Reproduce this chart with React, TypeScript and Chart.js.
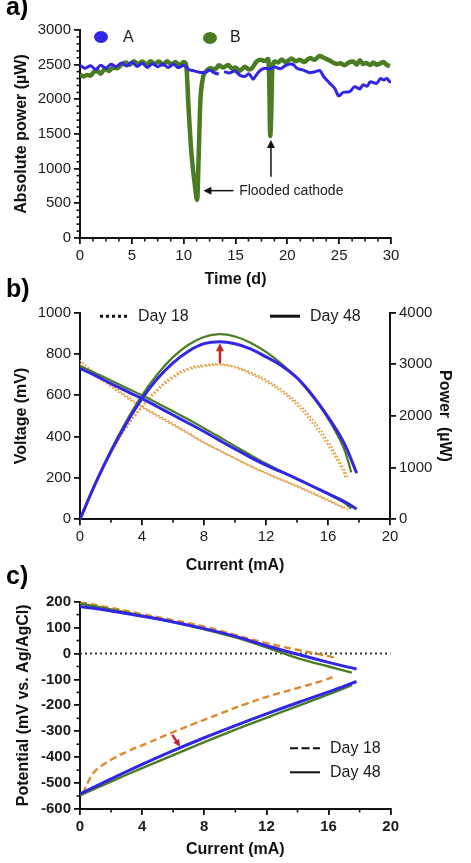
import React, { useEffect, useRef } from "react";
import { Chart, registerables } from "chart.js";

Chart.register(...registerables);

const FONT = '"Liberation Sans", Arial, Helvetica, sans-serif';
const BLUE = "#3226e6";
const GREEN = "#4a7d23";
const ORANGE_DOT = "#e3a24c";
const ORANGE_DASH = "#dd8a2e";
const RED = "#c4242c";
const INK = "#1b1b1b";

// ---------- a) absolute power over time ----------
const daysA = [0, 0.5, 1, 1.5, 2, 2.5, 3, 3.5, 4, 4.5, 5, 5.5, 6, 6.5, 7, 7.5, 8, 8.5, 9, 9.5, 10, 10.5, 11, 11.5, 12, 12.5, 13, 13.4, 13.6, 13.9, 14.4, 14.9, 15.4, 15.9, 16.3, 16.7, 17, 17.4, 17.9, 18.3, 18.8, 19.3, 19.8, 20.3, 20.6, 20.9, 21.5, 22.2, 22.7, 23.1, 23.5, 24.1, 24.6, 24.95, 25.4, 26, 26.5, 27, 27.3, 27.7, 28, 28.6, 29, 29.3, 29.6, 29.9, 30];
const powerA = [2490, 2450, 2485, 2430, 2490, 2450, 2505, 2470, 2525, 2480, 2540, 2475, 2520, 2460, 2515, 2470, 2510, 2460, 2505, 2455, 2490, 2430, 2410, 2390, 2385, 2420, 2380, 2365, null, 2400, 2380, 2410, 2350, 2330, 2370, 2290, 2350, 2420, 2450, 2440, 2465, 2440, 2485, 2510, 2500, 2450, 2425, 2385, 2400, 2415, 2330, 2230, 2150, 2050, 2100, 2110, 2180, 2150, 2210, 2190, 2255, 2230, 2300, 2280, 2300, 2255, 2260];
const daysB = [0, 0.3, 0.7, 1, 1.3, 1.7, 2, 2.4, 2.8, 3.2, 3.6, 4, 4.4, 4.8, 5.2, 5.6, 6, 6.4, 6.8, 7.2, 7.6, 8, 8.4, 8.8, 9.2, 9.6, 10, 10.2, 10.3, 10.45, 10.75, 11.1, 11.3, 11.45, 11.6, 11.85, 12.2, 12.6, 13, 13.4, 13.8, 14.3, 14.7, 15, 15.4, 15.9, 16.3, 16.6, 17, 17.4, 17.8, 18.15, 18.25, 18.35, 18.45, 18.55, 18.8, 19.1, 19.45, 19.8, 20.1, 20.4, 20.8, 21.2, 21.6, 22.2, 22.6, 23.1, 23.5, 23.8, 24.1, 24.4, 24.8, 25.1, 25.5, 25.9, 26.35, 26.7, 27, 27.3, 27.6, 28, 28.3, 28.6, 29, 29.25, 29.6, 29.9];
const powerB = [2360, 2330, 2350, 2340, 2390, 2410, 2370, 2440, 2410, 2460, 2450, 2500, 2530, 2500, 2550, 2510, 2545, 2500, 2550, 2510, 2545, 2500, 2550, 2505, 2540, 2490, 2540, 2520, 2400, 1940, 1220, 740, 550, 1200, 1940, 2300, 2410, 2450, 2430, 2490, 2460, 2495, 2440, 2460, 2410, 2470, 2430, 2450, 2540, 2570, 2555, 2580, 2300, 1470, 1800, 2450, 2545, 2530, 2575, 2540, 2560, 2590, 2550, 2570, 2540, 2595, 2570, 2625, 2600, 2580, 2560, 2530, 2510, 2520, 2490, 2530, 2545, 2500, 2565, 2510, 2525, 2495, 2530, 2500, 2520, 2540, 2495, 2480];
const floodLabel = "Flooded cathode";
const floodArrowDays = [14.8, 11.9];
const floodArrowPower = 683;
const floodLabelDay = 15.35;
const secondFloodDay = 18.42;
const secondFloodPower = [885, 1414];

// ---------- b) polarization and power density curves ----------
const currentA48 = [0, 1, 2, 3, 4, 5, 6, 7, 8, 9, 10, 11, 12, 13, 14, 15, 16, 17, 17.85];
const voltageA48 = [731, 695, 657, 620, 584, 545, 505, 465, 425, 382, 340, 300, 262, 229, 196, 160, 124, 88, 50];
const powerA48 = [0, 695, 1314, 1860, 2336, 2725, 3030, 3255, 3400, 3438, 3400, 3300, 3144, 2975, 2740, 2400, 1984, 1496, 893];
const currentB48 = [0, 1, 2, 3, 4, 5, 6, 7, 8, 9, 10, 11, 12, 13, 14, 15, 16, 17, 17.5];
const voltageB48 = [742, 707, 672, 636, 600, 562, 523, 483, 441, 398, 354, 311, 270, 232, 195, 159, 122, 82, 52];
const powerB48 = [0, 707, 1344, 1908, 2400, 2810, 3140, 3380, 3530, 3585, 3540, 3420, 3240, 3010, 2730, 2380, 1950, 1390, 910];
const currentA18 = [0, 0.5, 1, 2, 3, 4, 5, 6, 7, 8, 9, 10, 11, 12, 13, 14, 15, 16, 17, 17.25];
const voltageA18 = [768, 735, 706, 652, 598, 548, 505, 462, 418, 373, 334, 296, 259, 225, 193, 162, 129, 95, 58, 48];
const powerA18 = [0, 368, 706, 1304, 1794, 2192, 2525, 2772, 2926, 2984, 3006, 2955, 2845, 2700, 2510, 2262, 1935, 1515, 990, 828];
const currentB18 = [0, 0.5, 1, 2, 3, 4, 5, 6, 7, 8, 9, 10, 11, 12, 13, 14, 15, 16, 17, 17.1];
const voltageB18 = [752, 722, 694, 642, 590, 542, 498, 456, 414, 370, 332, 294, 256, 222, 190, 158, 124, 90, 54, 48];
const powerB18 = [0, 361, 694, 1284, 1770, 2168, 2490, 2736, 2898, 2960, 2988, 2940, 2816, 2664, 2470, 2212, 1860, 1440, 918, 821];
const boostArrowCurrent = 9.03;
const boostArrowPower = [3020, 3410];

// ---------- c) electrode potentials ----------
const cathCurrentA48 = [0, 2, 4, 6, 8, 10, 12, 14, 16, 17.8];
const cathPotentialA48 = [182, 164, 144, 122, 96, 66, 30, -3, -34, -60];
const cathCurrentB48 = [0, 2, 4, 6, 8, 10, 12, 14, 16, 17.5];
const cathPotentialB48 = [193, 170, 146, 121, 93, 62, 24, -18, -50, -74];
const cathCurrent18 = [0, 2, 4, 6, 8, 10, 12, 14, 15, 16, 16.5];
const cathPotential18 = [198, 176, 152, 129, 104, 72, 40, 14, 2, -10, -18];
const anodeCurrentA48 = [0, 2, 4, 6, 8, 10, 12, 14, 16, 17.8];
const anodePotentialA48 = [-542, -484, -428, -375, -325, -278, -233, -190, -148, -108];
const anodeCurrentB48 = [0, 2, 4, 6, 8, 10, 12, 14, 16, 17.5];
const anodePotentialB48 = [-548, -494, -442, -392, -342, -294, -248, -203, -158, -122];
const anodeCurrent18 = [0.2, 0.5, 1, 2, 3, 4.3, 5.8, 7.3, 9, 10.7, 12.4, 14.2, 15.7, 16.5];
const anodePotential18 = [-540, -498, -452, -410, -379, -347, -308, -272, -232, -194, -160, -130, -103, -86];
const shiftArrowCurrent = [5.94, 6.44];
const shiftArrowPotential = [-314, -359];

const legendDays = ["Day 18", "Day 48"];

function pts(xs: number[], ys: (number | null)[]) {
  return xs.map((x, i) => ({ x, y: ys[i] }));
}

function arrow(ctx: CanvasRenderingContext2D, x1: number, y1: number, x2: number, y2: number, color: string, width: number, head: number) {
  const ang = Math.atan2(y2 - y1, x2 - x1);
  const c = Math.cos(ang);
  const s = Math.sin(ang);
  ctx.save();
  ctx.strokeStyle = color;
  ctx.fillStyle = color;
  ctx.lineWidth = width;
  ctx.beginPath();
  ctx.moveTo(x1, y1);
  ctx.lineTo(x2 - c * head * 0.8, y2 - s * head * 0.8);
  ctx.stroke();
  ctx.beginPath();
  ctx.moveTo(x2, y2);
  ctx.lineTo(x2 - head * c + head * 0.5 * s, y2 - head * s - head * 0.5 * c);
  ctx.lineTo(x2 - head * c - head * 0.5 * s, y2 - head * s + head * 0.5 * c);
  ctx.closePath();
  ctx.fill();
  ctx.restore();
}

// small unlabeled ticks between the labeled ones
const minorTicks = {
  id: "minorTicks",
  afterDraw(chart: any, _args: any, opts: any) {
    const { ctx, chartArea: ca } = chart;
    const steps = (opts && opts.steps) || {};
    const len = (opts && opts.length) || 3.5;
    ctx.save();
    ctx.strokeStyle = "#111";
    ctx.lineWidth = 1.6;
    for (const id of Object.keys(steps)) {
      const scale = chart.scales[id];
      const step = steps[id];
      const major = scale.options.ticks.stepSize;
      const n = Math.round((scale.max - scale.min) / step);
      for (let i = 0; i <= n; i++) {
        const v = scale.min + i * step;
        const r = v / major;
        if (Math.abs(r - Math.round(r)) < 1e-6) continue;
        const p = scale.getPixelForValue(v);
        ctx.beginPath();
        if (scale.isHorizontal()) {
          ctx.moveTo(p, ca.bottom);
          ctx.lineTo(p, ca.bottom + len);
        } else if (scale.position === "right") {
          ctx.moveTo(ca.right, p);
          ctx.lineTo(ca.right + len, p);
        } else {
          ctx.moveTo(ca.left, p);
          ctx.lineTo(ca.left - len, p);
        }
        ctx.stroke();
      }
    }
    ctx.restore();
  },
};

function axis(min: number, max: number, step: number, title: string, bold: boolean, titlePad: any, fit: (s: any) => void, extra: any = {}) {
  return {
    type: "linear",
    min,
    max,
    afterFit: fit,
    ticks: {
      stepSize: step,
      color: INK,
      padding: 3,
      autoSkip: false,
      maxRotation: 0,
      font: { family: FONT, size: 15, weight: bold ? "bold" : "normal" },
      callback: (v: any) => String(v),
    },
    grid: { drawOnChartArea: false, drawTicks: true, tickLength: 6, color: "#111", lineWidth: 1.8 },
    border: { color: "#111", width: 2 },
    title: {
      display: true,
      text: title,
      color: "#111",
      padding: titlePad,
      font: { family: FONT, size: 16, weight: "bold" },
    },
    ...extra,
  };
}

// jagged time series keep monotone interpolation; smooth curves use bezier tension
function line(data: any[], color: string, width: number, extra: any = {}) {
  return {
    data,
    borderColor: color,
    backgroundColor: color,
    borderWidth: width,
    pointRadius: 0,
    fill: false,
    tension: 0.4,
    spanGaps: false,
    ...extra,
  };
}

const basePlugins = { legend: { display: false }, tooltip: { enabled: false } };

function configA(): any {
  const overlay = {
    id: "overlayA",
    afterDatasetsDraw(chart: any) {
      const { ctx, chartArea: ca, scales } = chart;
      const x = scales.x;
      const y = scales.y;
      ctx.save();
      ctx.fillStyle = BLUE;
      ctx.beginPath();
      ctx.ellipse(ca.left + 21, ca.top + 7, 7, 6, 0, 0, Math.PI * 2);
      ctx.fill();
      ctx.fillStyle = GREEN;
      ctx.beginPath();
      ctx.ellipse(ca.left + 130, ca.top + 8, 7, 6, 0, 0, Math.PI * 2);
      ctx.fill();
      ctx.fillStyle = INK;
      ctx.font = `16px ${FONT}`;
      ctx.textBaseline = "middle";
      ctx.fillText("A", ca.left + 43, ca.top + 8);
      ctx.fillText("B", ca.left + 150, ca.top + 8);
      const ay = y.getPixelForValue(floodArrowPower);
      arrow(ctx, x.getPixelForValue(floodArrowDays[0]), ay, x.getPixelForValue(floodArrowDays[1]), ay, "#111", 1.5, 8);
      ctx.font = `14px ${FONT}`;
      ctx.fillStyle = "#222";
      ctx.fillText(floodLabel, x.getPixelForValue(floodLabelDay), ay);
      const vx = x.getPixelForValue(secondFloodDay);
      arrow(ctx, vx, y.getPixelForValue(secondFloodPower[0]), vx, y.getPixelForValue(secondFloodPower[1]), "#111", 1.5, 8);
      ctx.restore();
    },
  };
  const jag = { cubicInterpolationMode: "monotone" };
  return {
    type: "line",
    data: {
      datasets: [
        line(pts(daysA, powerA), BLUE, 3, jag),
        line(pts(daysB, powerB), GREEN, 4.5, jag),
      ],
    },
    options: {
      animation: false,
      responsive: false,
      layout: { padding: { left: 0, right: 80, top: 30, bottom: 0 } },
      plugins: { ...basePlugins, minorTicks: { steps: { x: 1.25, y: 100 } } },
      scales: {
        x: axis(0, 30, 5, "Time (d)", false, { top: 0, bottom: 2.4 }, (s: any) => { s.height = 54; }),
        y: axis(0, 3000, 500, "Absolute power (µW)", false, { top: 12, bottom: 0 }, (s: any) => { s.width = 80; }),
      },
    },
    plugins: [minorTicks, overlay],
  };
}

function configB(): any {
  const overlay = {
    id: "overlayB",
    afterDatasetsDraw(chart: any) {
      const { ctx, chartArea: ca, scales } = chart;
      ctx.save();
      const ly = ca.top + 3.5;
      ctx.strokeStyle = "#111";
      ctx.lineWidth = 3;
      ctx.setLineDash([3, 3]);
      ctx.beginPath();
      ctx.moveTo(ca.left + 20, ly);
      ctx.lineTo(ca.left + 48, ly);
      ctx.stroke();
      ctx.setLineDash([]);
      ctx.beginPath();
      ctx.moveTo(ca.left + 190, ly);
      ctx.lineTo(ca.left + 220, ly);
      ctx.stroke();
      ctx.fillStyle = INK;
      ctx.font = `16px ${FONT}`;
      ctx.textBaseline = "middle";
      ctx.fillText(legendDays[0], ca.left + 58, ly);
      ctx.fillText(legendDays[1], ca.left + 230, ly);
      const ax = scales.x.getPixelForValue(boostArrowCurrent);
      arrow(ctx, ax, scales.y2.getPixelForValue(boostArrowPower[0]), ax, scales.y2.getPixelForValue(boostArrowPower[1]), RED, 2.5, 8);
      ctx.restore();
    },
  };
  const dot = { borderDash: [0.1, 3.6], borderCapStyle: "round" };
  return {
    type: "line",
    data: {
      datasets: [
        line(pts(currentA48, voltageA48), BLUE, 3, { yAxisID: "y" }),
        line(pts(currentA48, powerA48), BLUE, 3, { yAxisID: "y2" }),
        line(pts(currentB48, voltageB48), GREEN, 2.2, { yAxisID: "y" }),
        line(pts(currentB48, powerB48), GREEN, 2.2, { yAxisID: "y2" }),
        line(pts(currentA18, voltageA18), ORANGE_DOT, 2, { yAxisID: "y", ...dot }),
        line(pts(currentA18, powerA18), ORANGE_DOT, 2, { yAxisID: "y2", ...dot }),
        line(pts(currentB18, voltageB18), ORANGE_DOT, 2, { yAxisID: "y", ...dot }),
        line(pts(currentB18, powerB18), ORANGE_DOT, 2, { yAxisID: "y2", ...dot }),
      ],
    },
    options: {
      animation: false,
      responsive: false,
      layout: { padding: { left: 0, right: 0, top: 20.7, bottom: 0 } },
      plugins: { ...basePlugins, minorTicks: { steps: { x: 2 } } },
      scales: {
        x: axis(0, 20, 4, "Current (mA)", false, { top: 0, bottom: 8.4 }, (s: any) => { s.height = 64.7; }),
        y: axis(0, 1000, 200, "Voltage (mV)", false, { top: 12, bottom: 0 }, (s: any) => { s.width = 80; }, { position: "left" }),
        y2: axis(0, 4000, 1000, "Power  (µW)", false, { top: 17, bottom: 0 }, (s: any) => { s.width = 81; }, { position: "right" }),
      },
    },
    plugins: [minorTicks, overlay],
  };
}

function configC(): any {
  const overlay = {
    id: "overlayC",
    afterDatasetsDraw(chart: any) {
      const { ctx, chartArea: ca, scales } = chart;
      ctx.save();
      ctx.strokeStyle = "#111";
      ctx.lineWidth = 2;
      const y1 = ca.top + 146.6;
      const y2 = ca.top + 170.6;
      ctx.setLineDash([8, 3.5]);
      ctx.beginPath();
      ctx.moveTo(ca.left + 210, y1);
      ctx.lineTo(ca.left + 240, y1);
      ctx.stroke();
      ctx.setLineDash([]);
      ctx.beginPath();
      ctx.moveTo(ca.left + 210, y2);
      ctx.lineTo(ca.left + 240, y2);
      ctx.stroke();
      ctx.fillStyle = INK;
      ctx.font = `16px ${FONT}`;
      ctx.textBaseline = "middle";
      ctx.fillText(legendDays[0], ca.left + 250, y1);
      ctx.fillText(legendDays[1], ca.left + 250, y2);
      const x = scales.x;
      const y = scales.y;
      arrow(ctx, x.getPixelForValue(shiftArrowCurrent[0]), y.getPixelForValue(shiftArrowPotential[0]), x.getPixelForValue(shiftArrowCurrent[1]), y.getPixelForValue(shiftArrowPotential[1]), RED, 2.5, 7);
      ctx.restore();
    },
  };
  const dash = { borderDash: [7, 4] };
  return {
    type: "line",
    data: {
      datasets: [
        line(pts(cathCurrentA48, cathPotentialA48), BLUE, 3),
        line(pts(anodeCurrentA48, anodePotentialA48), BLUE, 3),
        line(pts(cathCurrentB48, cathPotentialB48), GREEN, 2.4),
        line(pts(anodeCurrentB48, anodePotentialB48), GREEN, 2.4),
        line(pts(cathCurrent18, cathPotential18), ORANGE_DASH, 2.4, dash),
        line(pts(anodeCurrent18, anodePotential18), ORANGE_DASH, 2.4, dash),
        line(pts([0, 20], [0, 0]), "#333", 2, { borderDash: [2, 3], tension: 0 }),
      ],
    },
    options: {
      animation: false,
      responsive: false,
      layout: { padding: { left: 0, right: 80.3, top: 17.7, bottom: 0 } },
      plugins: { ...basePlugins, minorTicks: { steps: { x: 2, y: 50 } } },
      scales: {
        x: axis(0, 20, 4, "Current (mA)", true, { top: 0, bottom: 3.4 }, (s: any) => { s.height = 54; }),
        y: axis(-600, 200, 100, "Potential (mV vs. Ag/AgCl)", true, { top: 14.4, bottom: 0 }, (s: any) => { s.width = 80; }),
      },
    },
    plugins: [minorTicks, overlay],
  };
}

const panelLabel: React.CSSProperties = {
  position: "absolute",
  left: 6,
  font: `bold 25px ${FONT}`,
  lineHeight: "25px",
  color: "#000",
  zIndex: 2,
};

export default function App() {
  const refA = useRef<HTMLCanvasElement>(null);
  const refB = useRef<HTMLCanvasElement>(null);
  const refC = useRef<HTMLCanvasElement>(null);

  useEffect(() => {
    const charts = [
      new Chart(refA.current as HTMLCanvasElement, configA()),
      new Chart(refB.current as HTMLCanvasElement, configB()),
      new Chart(refC.current as HTMLCanvasElement, configC()),
    ];
    return () => charts.forEach((c) => c.destroy());
  }, []);

  return (
    <div style={{ position: "fixed", left: 0, top: 0, width: 471, height: 863, background: "#fff", overflow: "hidden" }}>
      <canvas ref={refA} width={471} height={292} style={{ position: "absolute", left: 0, top: 0 }} />
      <canvas ref={refB} width={471} height={292} style={{ position: "absolute", left: 0, top: 292 }} />
      <canvas ref={refC} width={471} height={279} style={{ position: "absolute", left: 0, top: 584 }} />
      <div style={{ ...panelLabel, top: -6 }}>a)</div>
      <div style={{ ...panelLabel, top: 276 }}>b)</div>
      <div style={{ ...panelLabel, top: 563 }}>c)</div>
    </div>
  );
}
